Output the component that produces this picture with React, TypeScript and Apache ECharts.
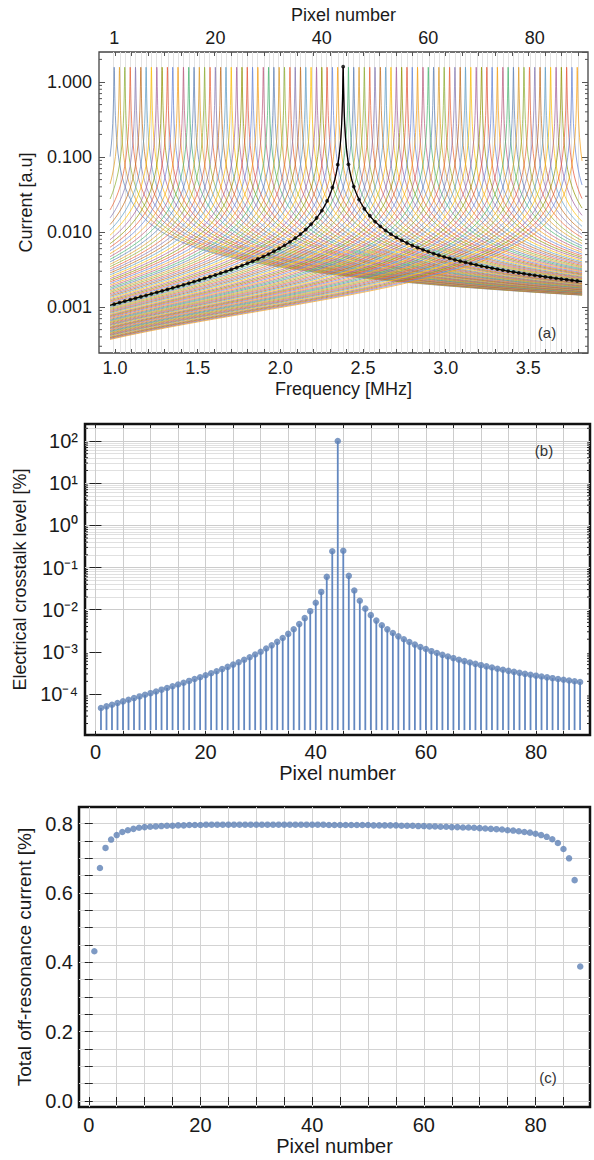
import React, { useEffect, useRef } from "react";
import * as echarts from "echarts";

// ---------- data ----------
const pixelNumbers: number[] = Array.from({ length: 88 }, (_, i) => i + 1);

// resonance frequency of each pixel [MHz] (positions of the peaks in panel a)
const resonanceFreqMHz = [
  0.995, 1.027, 1.059, 1.092, 1.124, 1.156, 1.188, 1.22, 1.253, 1.285,
  1.317, 1.349, 1.381, 1.414, 1.446, 1.478, 1.51, 1.542, 1.575, 1.607,
  1.639, 1.671, 1.703, 1.736, 1.768, 1.8, 1.832, 1.864, 1.897, 1.929,
  1.961, 1.993, 2.025, 2.058, 2.09, 2.122, 2.154, 2.186, 2.219, 2.251,
  2.283, 2.315, 2.347, 2.38, 2.412, 2.444, 2.476, 2.508, 2.541, 2.573,
  2.605, 2.637, 2.669, 2.702, 2.734, 2.766, 2.798, 2.83, 2.863, 2.895,
  2.927, 2.959, 2.991, 3.024, 3.056, 3.088, 3.12, 3.152, 3.185, 3.217,
  3.249, 3.281, 3.313, 3.346, 3.378, 3.41, 3.442, 3.474, 3.507, 3.539,
  3.571, 3.603, 3.635, 3.668, 3.7, 3.732, 3.764, 3.796,
];

// panel b: electrical crosstalk level [%]
const crosstalkPct = [
  4.66e-5, 5.11e-5, 5.59e-5, 6.12e-5, 6.7e-5, 7.34e-5, 8.03e-5, 8.79e-5, 9.62e-5, 1.05e-4,
  1.15e-4, 1.27e-4, 1.39e-4, 1.53e-4, 1.68e-4, 1.86e-4, 2.05e-4, 2.27e-4, 2.51e-4, 2.79e-4,
  3.12e-4, 3.48e-4, 3.91e-4, 4.41e-4, 4.99e-4, 5.67e-4, 6.49e-4, 7.47e-4, 8.66e-4, 1.01e-3,
  1.2e-3, 1.43e-3, 1.73e-3, 2.13e-3, 2.67e-3, 3.44e-3, 4.56e-3, 6.31e-3, 9.23e-3, 1.46e-2,
  2.64e-2, 6.02e-2, 0.244, 100, 0.25, 0.0635, 2.86e-2, 1.63e-2, 1.06e-2, 7.43e-3,
  5.52e-3, 4.28e-3, 3.42e-3, 2.8e-3, 2.34e-3, 1.99e-3, 1.71e-3, 1.49e-3, 1.31e-3, 1.17e-3,
  1.04e-3, 9.39e-4, 8.51e-4, 7.76e-4, 7.1e-4, 6.53e-4, 6.03e-4, 5.59e-4, 5.19e-4, 4.84e-4,
  4.53e-4, 4.25e-4, 3.99e-4, 3.76e-4, 3.55e-4, 3.36e-4, 3.18e-4, 3.02e-4, 2.87e-4, 2.73e-4,
  2.61e-4, 2.49e-4, 2.38e-4, 2.28e-4, 2.18e-4, 2.09e-4, 2.01e-4, 1.93e-4,
];

// panel c: total off-resonance current [%]
const offResonancePct = [
  0.432, 0.672, 0.73, 0.754, 0.767, 0.776, 0.781, 0.785, 0.788, 0.79,
  0.791, 0.792, 0.793, 0.794, 0.794, 0.795, 0.795, 0.796, 0.796, 0.796,
  0.797, 0.797, 0.797, 0.797, 0.797, 0.797, 0.797, 0.797, 0.797, 0.797,
  0.797, 0.797, 0.797, 0.797, 0.797, 0.797, 0.797, 0.797, 0.797, 0.797,
  0.797, 0.797, 0.796, 0.796, 0.796, 0.796, 0.796, 0.796, 0.796, 0.796,
  0.795, 0.795, 0.795, 0.795, 0.795, 0.794, 0.794, 0.794, 0.793, 0.793,
  0.792, 0.792, 0.791, 0.791, 0.79, 0.79, 0.789, 0.789, 0.788, 0.787,
  0.786, 0.785, 0.784, 0.783, 0.781, 0.78, 0.778, 0.776, 0.774, 0.771,
  0.767, 0.762, 0.755, 0.744, 0.727, 0.7, 0.637, 0.388,
];

// resonator model: peak current and reactance slope
const peakCurrent = 1.6;
const reactanceSlope = 195;
const referencePixel = 44;
const sweepStartMHz = 0.97;
const sweepEndMHz = 3.825;

// tick labels
const freqLabelValues = [1.0, 1.5, 2.0, 2.5, 3.0, 3.5];
const topPixelLabels = [1, 20, 40, 60, 80];
const pixelLabelValues = [0, 20, 40, 60, 80];
const offResLabelValues = [0, 0.2, 0.4, 0.6, 0.8];

const palette = [
  "#5E81B5", "#E19C24", "#8FB032", "#EB6235", "#8778B3", "#C56E1A", "#5D9EC7", "#FFBF00",
  "#A5609D", "#929600", "#E95536", "#6685D9", "#F89F13", "#BC5B80", "#47B66D",
];

const FONT = '"Liberation Sans", Arial, Helvetica, sans-serif';
const TXT = "#1a1a1a";
const BLUE = "#5E81B5";

// ---------- helpers ----------
const R = 1 / peakCurrent;
function pixelCurrent(f: number, f0: number): number {
  const x = reactanceSlope * (f - (f0 * f0) / f);
  return 1 / Math.sqrt(R * R + x * x);
}
const baseSweep: number[] = [];
for (let i = 0; ; i++) {
  const f = +(sweepStartMHz + i * 0.008).toFixed(4);
  if (f > sweepEndMHz) break;
  baseSweep.push(f);
}
baseSweep.push(sweepEndMHz);
const peakOffsets = [-0.014, -0.009, -0.006, -0.004, -0.0025, -0.0015, -0.0008, -0.0003, 0, 0.0003, 0.0008, 0.0015, 0.0025, 0.004, 0.006, 0.009, 0.014];
function resonanceCurve(f0: number): number[][] {
  const fs = baseSweep
    .concat(peakOffsets.map((d) => f0 + d))
    .filter((f) => f >= sweepStartMHz && f <= sweepEndMHz)
    .sort((a, b) => a - b);
  return fs.map((f) => [f, pixelCurrent(f, f0)]);
}
const range = (a: number, b: number, step: number, dec: number) => {
  const out: number[] = [];
  for (let i = 0; ; i++) {
    const v = +(a + i * step).toFixed(dec);
    if (v > b + 1e-9) break;
    out.push(v);
  }
  return out;
};
const SUP: Record<string, string> = { "-": "\u207B", "0": "\u2070", "1": "\u00B9", "2": "\u00B2", "3": "\u00B3", "4": "\u2074", "5": "\u2075" };
const powLabel = (v: number) =>
  "10" + String(Math.round(Math.log10(v))).split("").map((c) => SUP[c]).join("");

function logMinor(lo: number, hi: number, nFrom: number, nTo: number, mults: number[]) {
  const out: number[] = [];
  for (let n = nFrom; n <= nTo; n++)
    for (const m of mults) {
      const v = m * Math.pow(10, n);
      if (v >= lo && v <= hi) out.push(v);
    }
  return out;
}

// ---------- axis extents ----------
const A_X = [0.903, 3.861];
const A_Y = [2.44e-4, 2.51];
const B_X = [-1.9, 89.8];
const B_Y = [1.07e-5, 253];
const B_STEM_BASE = 1.4e-5;
const C_X = [-1.75, 89.75];
const C_Y = [-0.0173, 0.848];

const labelStyle = (size: number) => ({ color: TXT, fontFamily: FONT, fontSize: size });
const nameStyle = (size: number) => ({ color: TXT, fontFamily: FONT, fontSize: size });

function tickSideCustom(gridIndex: number, yIdx: number, xVal: number, values: number[], len: number, color: string, width: number) {
  return {
    type: "custom",
    xAxisIndex: gridIndex,
    yAxisIndex: yIdx,
    silent: true,
    z: 6,
    data: values.map((v) => [xVal, v]),
    renderItem: (params: any, api: any) => {
      const cs = params.coordSys;
      const y = api.coord([api.value(0), api.value(1)])[1];
      return {
        type: "group",
        children: [
          { type: "line", shape: { x1: cs.x, y1: y, x2: cs.x + len, y2: y }, style: { stroke: color, lineWidth: width } },
          { type: "line", shape: { x1: cs.x + cs.width - len, y1: y, x2: cs.x + cs.width, y2: y }, style: { stroke: color, lineWidth: width } },
        ],
      };
    },
  };
}

function gridLineSeries(xIdx: number, yIdx: number, anchor: number[], color: string, data: any[]) {
  return {
    type: "line",
    xAxisIndex: xIdx,
    yAxisIndex: yIdx,
    data: [anchor],
    symbol: "none",
    lineStyle: { opacity: 0 },
    silent: true,
    z: 0,
    zlevel: 0,
    markLine: {
      silent: true,
      z: 0,
      symbol: ["none", "none"],
      label: { show: false },
      emphasis: { disabled: true },
      lineStyle: { color, width: 1, type: "solid" },
      data,
    },
  };
}

function buildOption() {
  const series: any[] = [];

  // ===== Panel (a) =====
  series.push(gridLineSeries(0, 0, [1.5, 0.01], "#e3e3e3", resonanceFreqMHz.map((f) => ({ xAxis: f }))));
  resonanceFreqMHz.forEach((f0, i) => {
    series.push({
      type: "line",
      xAxisIndex: 0,
      yAxisIndex: 0,
      name: "pixel " + pixelNumbers[i],
      data: resonanceCurve(f0),
      symbol: "none",
      silent: true,
      z: 2,
      lineStyle: { color: palette[i % palette.length], width: 1, opacity: 0.72 },
    });
  });
  series.push({
    type: "line",
    xAxisIndex: 0,
    yAxisIndex: 0,
    name: "pixel 44",
    data: resonanceCurve(resonanceFreqMHz[referencePixel - 1]),
    symbol: "none",
    silent: true,
    z: 4,
    lineStyle: { color: "#000", width: 1.3 },
  });
  series.push({
    type: "scatter",
    xAxisIndex: 0,
    yAxisIndex: 0,
    data: resonanceFreqMHz.map((f, i) => [f, peakCurrent * Math.sqrt(crosstalkPct[i] / 100)]),
    symbolSize: 3.8,
    silent: true,
    z: 5,
    itemStyle: { color: "#000" },
  });
  series.push(
    tickSideCustom(0, 0, 2, logMinor(A_Y[0], A_Y[1], -4, 0, [2, 3, 4, 5, 6, 7, 8, 9]), 3, "#555", 1)
  );

  // ===== Panel (b) =====
  const bMinor = logMinor(B_Y[0], B_Y[1], -5, 2, [2, 3, 4, 5, 6, 7, 8, 9]);
  const bDec = logMinor(B_Y[0], B_Y[1], -5, 2, [1]);
  series.push(
    gridLineSeries(2, 2, [10, 1], "#e0e0e0", [
      ...bMinor.map((v) => ({ yAxis: v })),
      ...bDec.map((v) => ({ yAxis: v, lineStyle: { color: "#cccccc", width: 1, type: "solid" } })),
      ...range(0, 85, 5, 0).map((v) => ({ xAxis: v, lineStyle: { color: "#cdcdcd", width: 1, type: "solid" } })),
    ])
  );
  series.push({
    type: "custom",
    xAxisIndex: 2,
    yAxisIndex: 2,
    silent: true,
    z: 3,
    data: pixelNumbers.map((p, i) => [p, crosstalkPct[i]]),
    renderItem: (params: any, api: any) => {
      const top = api.coord([api.value(0), api.value(1)]);
      const bot = api.coord([api.value(0), B_STEM_BASE]);
      return {
        type: "line",
        shape: { x1: top[0], y1: top[1], x2: bot[0], y2: bot[1] },
        style: { stroke: "#6388c0", lineWidth: 1.8 },
      };
    },
  });
  series.push({
    type: "scatter",
    xAxisIndex: 2,
    yAxisIndex: 2,
    data: pixelNumbers.map((p, i) => [p, crosstalkPct[i]]),
    symbolSize: 6.5,
    silent: true,
    z: 4,
    itemStyle: { color: BLUE },
  });
  series.push(tickSideCustom(2, 2, 10, bMinor, 3, "#222", 1));

  // ===== Panel (c) =====
  series.push(
    gridLineSeries(4, 4, [10, 0.5], "#d3d3d3", [
      ...range(0, 85, 5, 0).map((v) => ({ xAxis: v })),
      ...range(0, 0.8, 0.05, 2).map((v) => ({ yAxis: v })),
    ])
  );
  series.push({
    type: "scatter",
    xAxisIndex: 4,
    yAxisIndex: 4,
    data: pixelNumbers.map((p, i) => [p, offResonancePct[i]]),
    symbolSize: 6.5,
    silent: true,
    z: 4,
    itemStyle: { color: BLUE },
  });

  const freqTicks = range(0.9, 3.8, 0.1, 1);
  const pxTicks = range(0, 85, 5, 0);
  const cYTicks = range(0, 0.8, 0.05, 2);

  const xAxis: any[] = [
    {
      gridIndex: 0, type: "value", position: "bottom", min: A_X[0], max: A_X[1],
      axisLine: { show: false }, splitLine: { show: false },
      axisTick: { show: true, inside: true, length: 4, customValues: freqTicks, lineStyle: { color: "#555" } },
      axisLabel: { ...labelStyle(18), margin: 6, customValues: freqLabelValues, formatter: (v: number) => v.toFixed(1) },
      name: "Frequency [MHz]", nameLocation: "middle", nameGap: 27, nameTextStyle: nameStyle(18),
    },
    {
      gridIndex: 0, type: "value", position: "top", min: A_X[0], max: A_X[1],
      axisLine: { show: false }, splitLine: { show: false },
      axisTick: { show: true, inside: true, length: 4, customValues: freqTicks, lineStyle: { color: "#555" } },
      axisLabel: {
        ...labelStyle(18), margin: 5,
        customValues: topPixelLabels.map((p) => resonanceFreqMHz[p - 1]),
        formatter: (v: number) => {
          let best = 0;
          resonanceFreqMHz.forEach((f, i) => { if (Math.abs(f - v) < Math.abs(resonanceFreqMHz[best] - v)) best = i; });
          return String(pixelNumbers[best]);
        },
      },
      name: "Pixel number", nameLocation: "middle", nameGap: 28, nameTextStyle: nameStyle(18),
    },
    {
      gridIndex: 1, type: "value", position: "bottom", min: B_X[0], max: B_X[1],
      axisLine: { show: false }, splitLine: { show: false },
      axisTick: { show: true, inside: true, length: 4, customValues: pxTicks, lineStyle: { color: "#222" } },
      axisLabel: { ...labelStyle(20), margin: 7, customValues: pixelLabelValues, formatter: (v: number) => String(v) },
      name: "Pixel number", nameLocation: "middle", nameGap: 27, nameTextStyle: nameStyle(20),
    },
    {
      gridIndex: 1, type: "value", position: "top", min: B_X[0], max: B_X[1],
      axisLine: { show: false }, splitLine: { show: false },
      axisTick: { show: true, inside: true, length: 4, customValues: pxTicks, lineStyle: { color: "#222" } },
      axisLabel: { show: false },
    },
    {
      gridIndex: 2, type: "value", position: "bottom", min: C_X[0], max: C_X[1],
      axisLine: { show: false }, splitLine: { show: false },
      axisTick: { show: true, inside: true, length: 4, customValues: pxTicks, lineStyle: { color: "#222" } },
      axisLabel: { ...labelStyle(20), margin: 8, customValues: pixelLabelValues, formatter: (v: number) => String(v) },
      name: "Pixel number", nameLocation: "middle", nameGap: 29, nameTextStyle: nameStyle(20),
    },
    {
      gridIndex: 2, type: "value", position: "top", min: C_X[0], max: C_X[1],
      axisLine: { show: false }, splitLine: { show: false },
      axisTick: { show: true, inside: true, length: 4, customValues: pxTicks, lineStyle: { color: "#222" } },
      axisLabel: { show: false },
    },
  ];

  const yAxis: any[] = [
    {
      gridIndex: 0, type: "log", logBase: 10, position: "left", min: A_Y[0], max: A_Y[1],
      axisLine: { show: false }, splitLine: { show: false },
      axisTick: { show: true, inside: true, length: 6, lineStyle: { color: "#555" } },
      axisLabel: { ...labelStyle(18), margin: 7, showMinLabel: false, showMaxLabel: false, formatter: (v: number) => v.toFixed(3) },
      name: "Current [a.u]", nameLocation: "middle", nameGap: 64, nameTextStyle: nameStyle(18),
    },
    {
      gridIndex: 0, type: "log", logBase: 10, position: "right", min: A_Y[0], max: A_Y[1],
      axisLine: { show: false }, splitLine: { show: false },
      axisTick: { show: true, inside: true, length: 6, lineStyle: { color: "#555" } },
      axisLabel: { show: false },
    },
    {
      gridIndex: 1, type: "log", logBase: 10, position: "left", min: B_Y[0], max: B_Y[1],
      axisLine: { show: false }, splitLine: { show: false },
      axisTick: { show: true, inside: true, length: 6, lineStyle: { color: "#222" } },
      axisLabel: { ...labelStyle(20), margin: 7, showMinLabel: false, showMaxLabel: false, formatter: powLabel },
      name: "Electrical crosstalk level [%]", nameLocation: "middle", nameGap: 47, nameTextStyle: nameStyle(18),
    },
    {
      gridIndex: 1, type: "log", logBase: 10, position: "right", min: B_Y[0], max: B_Y[1],
      axisLine: { show: false }, splitLine: { show: false },
      axisTick: { show: true, inside: true, length: 6, lineStyle: { color: "#222" } },
      axisLabel: { show: false },
    },
    {
      gridIndex: 2, type: "value", position: "left", min: C_Y[0], max: C_Y[1],
      axisLine: { show: false }, splitLine: { show: false },
      axisTick: { show: true, inside: true, length: 4, customValues: cYTicks, lineStyle: { color: "#222" } },
      axisLabel: { ...labelStyle(20), margin: 6, customValues: offResLabelValues, formatter: (v: number) => v.toFixed(1) },
      name: "Total off-resonance current [%]", nameLocation: "middle", nameGap: 43, nameTextStyle: nameStyle(19),
    },
    {
      gridIndex: 2, type: "value", position: "right", min: C_Y[0], max: C_Y[1],
      axisLine: { show: false }, splitLine: { show: false },
      axisTick: { show: true, inside: true, length: 4, customValues: cYTicks, lineStyle: { color: "#222" } },
      axisLabel: { show: false },
    },
  ];

  const panelLabel = (text: string, x: number, y: number) => ({
    type: "text",
    x,
    y,
    z: 10,
    style: {
      text,
      fill: "#333",
      font: `15px ${FONT}`,
      textAlign: "center",
      textVerticalAlign: "middle",
      align: "center",
      verticalAlign: "middle",
    },
  });

  return {
    animation: false,
    backgroundColor: "#ffffff",
    textStyle: { fontFamily: FONT },
    grid: [
      { left: 99, top: 52, width: 489, height: 301, show: true, borderColor: "#444", borderWidth: 1.3, backgroundColor: "transparent" },
      { left: 85, top: 424, width: 505, height: 311, show: true, borderColor: "#111", borderWidth: 2.5, backgroundColor: "transparent" },
      { left: 79, top: 807, width: 511, height: 300, show: true, borderColor: "#111", borderWidth: 2.5, backgroundColor: "transparent" },
    ],
    xAxis,
    yAxis,
    series,
    graphic: [panelLabel("(a)", 547, 332), panelLabel("(b)", 544, 450), panelLabel("(c)", 548, 1077)],
  };
}

export default function App() {
  const ref = useRef<HTMLDivElement>(null);
  useEffect(() => {
    if (!ref.current) return;
    const chart = echarts.init(ref.current, null, { renderer: "svg" });
    chart.setOption(buildOption() as any);
    return () => chart.dispose();
  }, []);
  return (
    <div
      ref={ref}
      style={{ position: "absolute", left: 0, top: 0, width: 594, height: 1160, background: "#fff" }}
    />
  );
}
